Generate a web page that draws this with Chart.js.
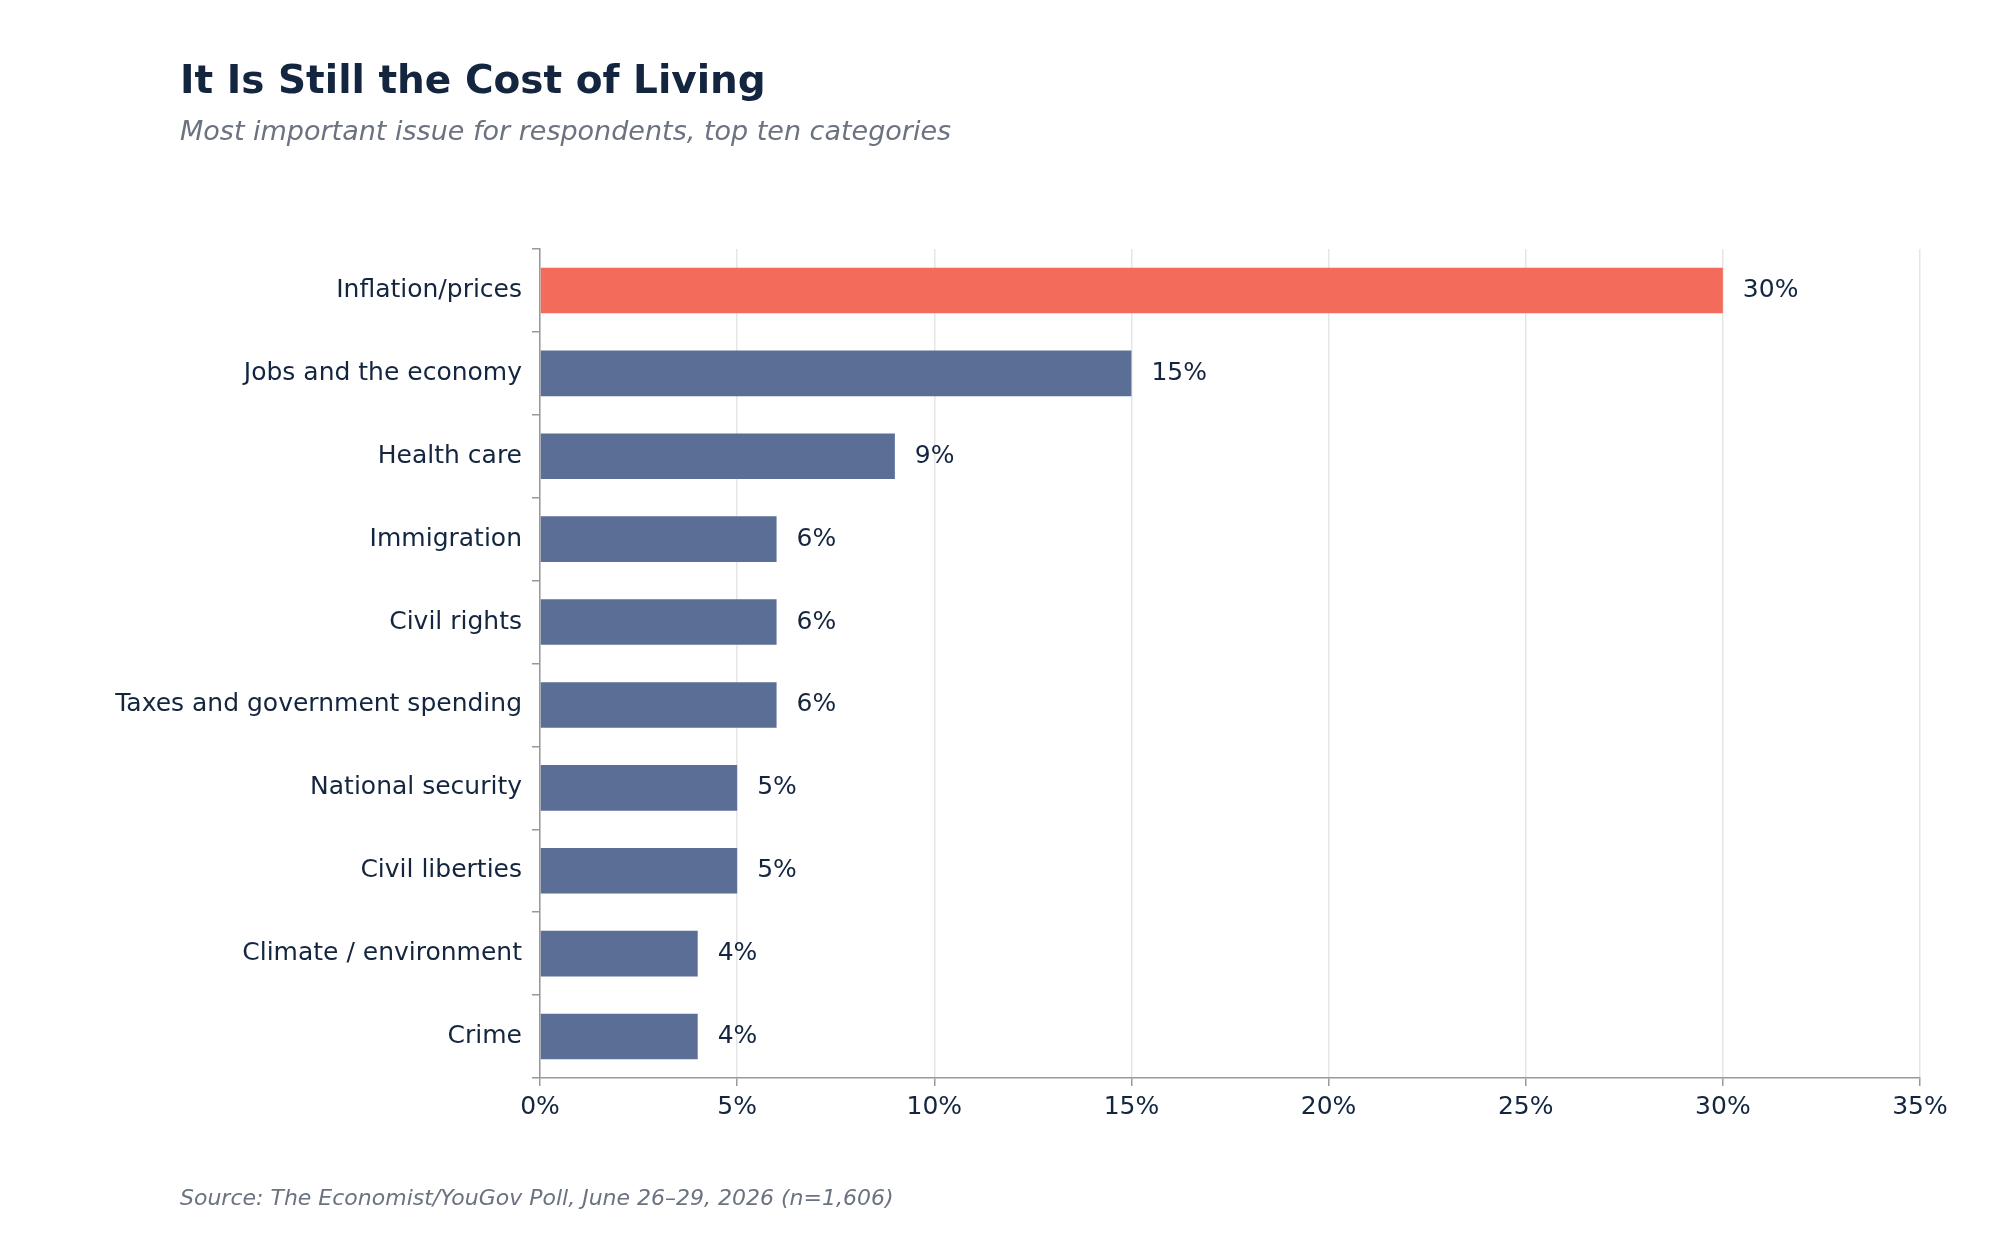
<!DOCTYPE html>
<html>
<head>
<meta charset="utf-8">
<script src="https://cdn.jsdelivr.net/npm/chart.js@4/dist/chart.umd.min.js"></script>
<style>
  body { margin: 0; background: #fff; }
  canvas { display: block; }
</style>
</head>
<body>
<canvas id="myChart" width="2000" height="1240"></canvas>
<script>
const categories = [
  'Inflation/prices', 'Jobs and the economy', 'Health care', 'Immigration',
  'Civil rights', 'Taxes and government spending', 'National security',
  'Civil liberties', 'Climate / environment', 'Crime'
];
const shares = [30, 15, 9, 6, 6, 6, 5, 5, 4, 4];
const xTicks = [0, 5, 10, 15, 20, 25, 30, 35];

const FONT = "'DejaVu Sans', sans-serif";
const DARK = '#13253f';

// title, subtitle, source and bar value labels
const decorations = {
  id: 'decorations',
  afterDraw(chart) {
    const ctx = chart.ctx;
    ctx.save();
    ctx.textBaseline = 'alphabetic';
    ctx.textAlign = 'left';
    ctx.fillStyle = DARK;
    ctx.font = `bold 39px ${FONT}`;
    ctx.fillText('It Is Still the Cost of Living', 180, 93);
    ctx.fillStyle = '#6b7280';
    ctx.font = `italic 27px ${FONT}`;
    ctx.fillText('Most important issue for respondents, top ten categories', 180, 140);
    ctx.font = `italic 22px ${FONT}`;
    ctx.fillText('Source: The Economist/YouGov Poll, June 26\u201329, 2026 (n=1,606)', 180, 1205);

    const meta = chart.getDatasetMeta(0);
    ctx.fillStyle = DARK;
    ctx.font = `25px ${FONT}`;
    ctx.textBaseline = 'middle';
    meta.data.forEach((bar, i) => {
      ctx.fillText(shares[i] + '%', bar.x + 20, bar.y);
    });
    ctx.restore();
  }
};

new Chart(document.getElementById('myChart'), {
  type: 'bar',
  data: {
    labels: categories,
    datasets: [{
      data: shares,
      backgroundColor: shares.map((v, i) => i === 0 ? '#f26b5b' : '#5a6e96'),
      categoryPercentage: 1,
      barPercentage: 0.55
    }]
  },
  options: {
    indexAxis: 'y',
    responsive: false,
    animation: false,
    layout: { padding: { top: 249, right: 80, bottom: 102, left: 0 } },
    plugins: { legend: { display: false }, tooltip: { enabled: false } },
    scales: {
      x: {
        min: 0,
        max: 35,
        afterBuildTicks(scale) { scale.ticks = xTicks.map(v => ({ value: v })); },
        afterFit(scale) { scale.height = 60; },
        grid: { color: '#e6e6e6', lineWidth: 1.5, tickLength: 8, tickColor: '#999' },
        border: { color: '#999', width: 1.5 },
        ticks: {
          color: DARK,
          font: { family: FONT, size: 25 },
          padding: 6,
          callback: v => v + '%'
        }
      },
      y: {
        afterFit(scale) { scale.width = 540; },
        grid: { drawOnChartArea: false, tickLength: 8, color: '#999', lineWidth: 1.5 },
        border: { color: '#999', width: 1.5 },
        ticks: {
          color: DARK,
          font: { family: FONT, size: 25 },
          padding: 10
        }
      }
    }
  },
  plugins: [decorations]
});
</script>
</body>
</html>
